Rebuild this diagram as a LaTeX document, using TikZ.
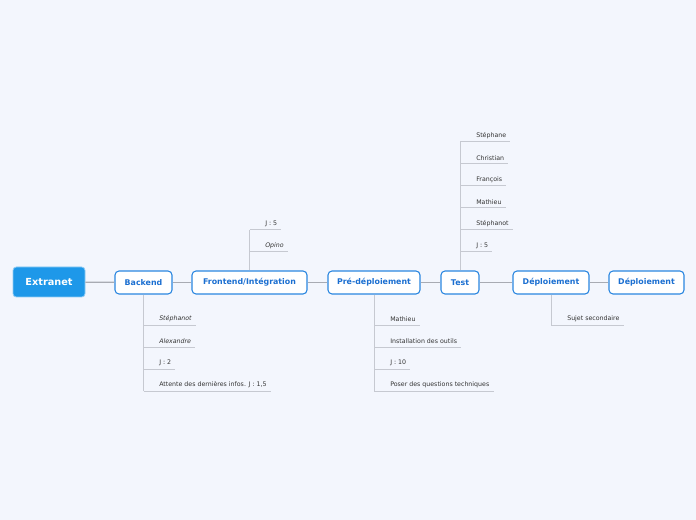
\documentclass[tikz,border=0pt]{standalone}
\usepackage{fontspec}
\setmainfont{DejaVu Sans}
\usepackage{amsmath}
\usepackage{color}
\usepackage{tikz}

\definecolor{bgpage}{HTML}{F3F6FD}
\definecolor{rootblue}{HTML}{1E98E9}
\definecolor{topicblue}{HTML}{2A86E0}
\definecolor{topictext}{HTML}{1B6FD1}
\definecolor{mainline}{HTML}{A8ABB3}
\definecolor{subline}{HTML}{C6C9D1}
\definecolor{subtext}{HTML}{333333}

\tikzset{
  root/.style={fill=rootblue, draw=rootblue!50!white, line width=0.6pt, rounded corners=2.5pt, text=white,
    font=\bfseries\fontsize{7.3}{8}\selectfont, minimum width=54pt, minimum height=22.5pt, inner sep=0pt},
  topic/.style={fill=white, draw=topicblue, line width=0.8pt, rounded corners=3pt, text=topictext,
    font=\bfseries\fontsize{5.9}{7}\selectfont, minimum height=17.25pt, inner sep=0pt},
  sub/.style={anchor=south west, text=subtext, font=\fontsize{4.7}{5.5}\selectfont, inner xsep=3pt, inner ysep=2pt},
  mainlink/.style={draw=mainline, line width=0.9pt},
  sublink/.style={draw=subline, line width=0.75pt},
}

\begin{document}
\begin{tikzpicture}[x=0.75pt,y=0.75pt,yscale=-1,xscale=1]
%set diagram page size
\path [fill=bgpage] (0,0) rectangle (696,520);

% Topic Nodes
\draw (49,282) node [root] (ext) {Extranet};
\draw (143.5,282.5) node [topic, minimum width=42.75pt] (bk) {Backend};
\draw (249.5,282.5) node [topic, minimum width=86.25pt] (fe) {Frontend/Intégration};
\draw (374,282.5) node [topic, minimum width=69pt] (pre) {Pré-déploiement};
\draw (460,282.5) node [topic, minimum width=28.5pt] (test) {Test};
\draw (551,282.5) node [topic, minimum width=57pt] (dep) {Déploiement};
\draw (646.5,282.5) node [topic, minimum width=56.25pt] (depb) {Déploiement};

%Straight Lines between topics
\draw [mainlink] (ext) -- (bk);
\draw [mainlink] (bk) -- (fe);
\draw [mainlink] (fe) -- (pre);
\draw [mainlink] (pre) -- (test);
\draw [mainlink] (test) -- (dep);
\draw [mainlink] (dep) -- (depb);

% Text Node : Backend
\draw (155,325) node [sub] (bk1) {\itshape Stéphanot};
\draw (155,347) node [sub] (bk2) {\itshape Alexandre};
\draw (155,369) node [sub] (bk3) {J : 2};
\draw (155,391) node [sub] (bk4) {Attente des dernières infos. J : 1,5};
%Straight Lines
\draw [sublink] (bk.south) -- (bk.south |- bk4.south);
\draw [sublink] (bk.south |- bk1.south) -- (bk1.south east);
\draw [sublink] (bk.south |- bk2.south) -- (bk2.south east);
\draw [sublink] (bk.south |- bk3.south) -- (bk3.south east);
\draw [sublink] (bk.south |- bk4.south) -- (bk4.south east);

% Text Node : Frontend/Intégration
\draw (261,230) node [sub] (fe1) {J : 5};
\draw (261,252) node [sub] (fe2) {\itshape Opino};
%Straight Lines
\draw [sublink] (fe.north) -- (fe.north |- fe1.south);
\draw [sublink] (fe.north |- fe1.south) -- (fe1.south east);
\draw [sublink] (fe.north |- fe2.south) -- (fe2.south east);

% Text Node : Pré-déploiement
\draw (386,325) node [sub] (pre1) {Mathieu};
\draw (386,347) node [sub] (pre2) {Installation des outils};
\draw (386,369) node [sub] (pre3) {J : 10};
\draw (386,391) node [sub] (pre4) {Poser des questions techniques};
%Straight Lines
\draw [sublink] (pre.south) -- (pre.south |- pre4.south);
\draw [sublink] (pre.south |- pre1.south) -- (pre1.south east);
\draw [sublink] (pre.south |- pre2.south) -- (pre2.south east);
\draw [sublink] (pre.south |- pre3.south) -- (pre3.south east);
\draw [sublink] (pre.south |- pre4.south) -- (pre4.south east);

% Text Node : Test
\draw (472,142) node [sub] (test1) {Stéphane};
\draw (472,164) node [sub] (test2) {Christian};
\draw (472,186) node [sub] (test3) {François};
\draw (472,208) node [sub] (test4) {Mathieu};
\draw (472,230) node [sub] (test5) {Stéphanot};
\draw (472,252) node [sub] (test6) {J : 5};
%Straight Lines
\draw [sublink] (test.north) -- (test.north |- test1.south);
\draw [sublink] (test.north |- test1.south) -- (test1.south east);
\draw [sublink] (test.north |- test2.south) -- (test2.south east);
\draw [sublink] (test.north |- test3.south) -- (test3.south east);
\draw [sublink] (test.north |- test4.south) -- (test4.south east);
\draw [sublink] (test.north |- test5.south) -- (test5.south east);
\draw [sublink] (test.north |- test6.south) -- (test6.south east);

% Text Node : Déploiement
\draw (563,325) node [sub] (dep1) {Sujet secondaire};
%Straight Lines
\draw [sublink] (dep.south) -- (dep.south |- dep1.south);
\draw [sublink] (dep.south |- dep1.south) -- (dep1.south east);

\end{tikzpicture}
\end{document}
